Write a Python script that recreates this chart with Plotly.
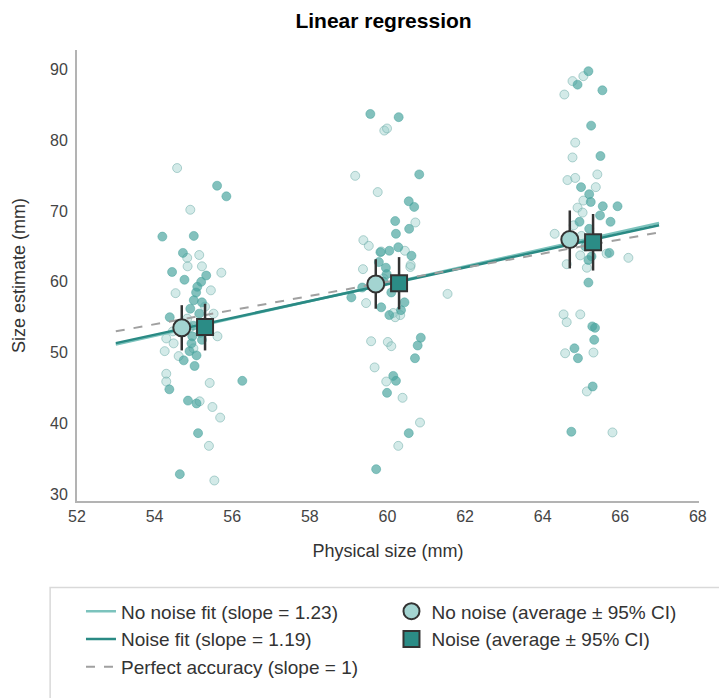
import plotly.graph_objects as go

# ---------------- data ----------------
sizes = [55, 60, 65]

# individual estimates, "No noise" condition (jittered physical size, estimate)
nn_x = [54.58, 54.92, 54.84, 55.15, 54.85, 55.22, 55.72, 55.45, 54.54, 54.84, 55.52, 55.62, 54.49, 54.26,
        54.62, 54.30, 54.30, 55.42, 55.16, 55.49, 55.69, 55.40, 55.54, 54.47, 55.30, 54.90, 54.30, 55.00,
        59.92, 59.99, 59.17, 59.75, 60.72, 59.38, 59.52, 60.45, 59.37, 60.59, 59.45, 60.33, 60.15, 61.55,
        59.58, 60.01, 60.10, 59.67, 59.97, 60.39, 60.84, 60.28, 59.84, 60.60, 60.20, 59.90,
        65.05, 64.77, 64.56, 64.84, 64.77, 64.64, 64.84, 65.41, 65.37, 65.05, 64.90, 65.03, 64.31, 64.97,
        65.65, 66.21, 64.62, 65.14, 64.54, 64.62, 64.97, 64.58, 65.31, 65.14, 65.80, 64.80, 65.00]
nn_y = [76.1, 70.2, 63.4, 63.8, 62.2, 62.2, 61.3, 58.8, 58.4, 54.8, 55.5, 52.3, 51.3, 50.2,
        49.5, 47.0, 45.9, 45.7, 43.1, 42.3, 40.8, 36.8, 31.9, 53.0, 56.5, 53.5, 52.0, 50.6,
        81.4, 81.7, 75.0, 72.7, 68.4, 65.9, 65.1, 64.4, 61.8, 62.1, 57.0, 55.3, 55.6, 58.3,
        51.6, 51.5, 50.9, 47.9, 45.9, 43.6, 40.1, 36.8, 64.3, 62.4, 55.0, 60.5,
        89.1, 88.4, 86.5, 79.7, 77.6, 74.4, 74.7, 75.2, 73.4, 71.5, 70.5, 69.8, 66.8, 63.75,
        64.0, 63.4, 62.5, 62.0, 55.4, 54.3, 55.4, 49.9, 50.0, 44.5, 38.7, 68.0, 66.5]

# individual estimates, "Noise" condition
n_x = [55.61, 55.85, 54.20, 55.01, 54.73, 54.45, 54.77, 55.33, 55.20, 55.07, 55.01, 55.22, 54.92, 54.39,
       54.97, 55.22, 54.75, 54.90, 55.08, 55.03, 54.38, 56.26, 54.86, 55.08, 55.12, 54.65, 55.10, 55.15,
       55.00, 54.95, 55.18,
       59.56, 60.29, 60.82, 60.55, 60.69, 60.20, 60.56, 60.22, 59.82, 60.05, 60.28, 60.62, 59.78, 59.96,
       59.98, 59.07, 59.35, 59.84, 60.05, 60.44, 60.86, 60.78, 60.71, 60.15, 60.22, 59.99, 60.55, 59.71,
       59.90, 60.10, 60.35,
       65.18, 64.90, 65.54, 65.25, 65.49, 64.99, 65.20, 65.24, 65.55, 65.93, 65.48, 65.75, 64.95, 65.20,
       65.26, 65.72, 65.18, 65.18, 65.28, 65.35, 65.33, 64.82, 64.91, 65.29, 64.74, 65.30, 65.10]
n_y = [73.6, 72.1, 66.4, 66.5, 64.1, 61.4, 60.3, 60.9, 60.0, 58.5, 57.4, 57.1, 56.2, 55.0,
       52.3, 51.8, 48.9, 50.2, 49.6, 48.1, 44.8, 46.0, 43.2, 42.8, 38.6, 32.8, 59.3, 55.5,
       53.8, 51.3, 52.8,
       83.75, 83.3, 75.2, 71.4, 70.6, 68.6, 67.5, 66.8, 64.2, 64.4, 64.9, 63.7, 62.8, 62.0,
       61.1, 57.8, 59.2, 56.4, 55.3, 57.1, 52.1, 51.0, 49.2, 46.7, 46.0, 44.3, 38.6, 33.5,
       60.0, 58.5, 56.0,
       89.8, 87.9, 87.1, 82.1, 77.8, 73.4, 72.4, 71.3, 70.7, 70.7, 69.4, 68.5, 68.5, 67.5,
       63.6, 64.1, 63.1, 59.9, 53.7, 53.5, 51.8, 50.6, 49.2, 45.2, 38.8, 66.0, 65.0]

# group averages and 95% CI half-widths
nn_mean = [53.5, 59.7, 66.0]
nn_ci = [3.2, 3.5, 4.1]
n_mean = [53.6, 59.8, 65.6]
n_ci = [3.3, 3.7, 4.0]

# regression slopes
nn_slope = 1.23
n_slope = 1.19
fit_x = [53, 67]

# ---------------- styling ----------------
FONT = "Liberation Sans, Arial, Helvetica, sans-serif"
LIGHT_FILL = "rgba(150,205,201,0.42)"
LIGHT_EDGE = "rgba(105,170,166,0.5)"
DARK_FILL = "rgba(72,163,157,0.68)"
DARK_EDGE = "rgba(72,163,157,0.5)"
NN_LINE = "#7cc3bd"
N_LINE = "#2a8a84"
OFFSET = 0.3

def line_through_mean(slope, means):
    mx = sum(sizes) / len(sizes)
    my = sum(means) / len(means)
    return [my + slope * (x - mx) for x in fit_x]

fig = go.Figure()

fig.add_trace(go.Scatter(x=nn_x, y=nn_y, mode="markers", showlegend=False, hoverinfo="skip",
                         marker=dict(size=9, color=LIGHT_FILL, line=dict(color=LIGHT_EDGE, width=1))))
fig.add_trace(go.Scatter(x=n_x, y=n_y, mode="markers", showlegend=False, hoverinfo="skip",
                         marker=dict(size=9, color=DARK_FILL, line=dict(color=DARK_EDGE, width=1))))

fig.add_trace(go.Scatter(x=fit_x, y=line_through_mean(nn_slope, nn_mean), mode="lines",
                         name=f"No noise fit (slope = {nn_slope:.2f})", legend="legend",
                         line=dict(color=NN_LINE, width=2.5)))
fig.add_trace(go.Scatter(x=fit_x, y=line_through_mean(n_slope, n_mean), mode="lines",
                         name=f"Noise fit (slope = {n_slope:.2f})", legend="legend",
                         line=dict(color=N_LINE, width=2.5)))
fig.add_trace(go.Scatter(x=fit_x, y=fit_x, mode="lines",
                         name="Perfect accuracy (slope = 1)", legend="legend",
                         line=dict(color="#a0a0a0", width=2, dash="dash")))

fig.add_trace(go.Scatter(x=[s - OFFSET for s in sizes], y=nn_mean, mode="markers",
                         name="No noise (average ± 95% CI)", legend="legend2",
                         error_y=dict(type="data", array=nn_ci, color="#333333", thickness=2.5, width=0),
                         marker=dict(symbol="circle", size=17, color="#a3d4d1",
                                     line=dict(color="#333333", width=2))))
fig.add_trace(go.Scatter(x=[s + OFFSET for s in sizes], y=n_mean, mode="markers",
                         name="Noise (average ± 95% CI)", legend="legend2",
                         error_y=dict(type="data", array=n_ci, color="#333333", thickness=2.5, width=0),
                         marker=dict(symbol="square", size=16, color="#2b8c86",
                                     line=dict(color="#333333", width=2))))

axis_common = dict(showgrid=False, zeroline=False, showline=True, linecolor="#b3b3b3", linewidth=2,
                   ticks="", tickfont=dict(size=16, color="#444444", family=FONT))

fig.update_layout(
    width=719, height=698,
    margin=dict(l=77, r=17, t=50, b=189),
    paper_bgcolor="white", plot_bgcolor="white",
    font=dict(family=FONT, color="#333333"),
    title=dict(text="<b>Linear regression</b>", x=(385 - 77) / 625, xanchor="center", xref="paper",
               y=1 - 21 / 698, yanchor="middle", font=dict(size=21, color="black", family=FONT)),
    xaxis=dict(range=[52, 68.03], tick0=52, dtick=2,
               title=dict(text="Physical size (mm)", font=dict(size=18, color="#333333"), standoff=20),
               **axis_common),
    yaxis=dict(range=[29.0, 92.8], tick0=30, dtick=10, ticklabelstandoff=4,
               title=dict(text="Size estimate (mm)", font=dict(size=18, color="#333333"), standoff=20),
               **axis_common),
    legend=dict(x=(81 - 77) / 625, xanchor="left", y=(509 - 602) / 459, yanchor="top",
                orientation="v", font=dict(size=19, color="#333333", family=FONT),
                bgcolor="rgba(0,0,0,0)", itemwidth=30, tracegroupgap=0),
    legend2=dict(x=(393 - 77) / 625, xanchor="left", y=(509 - 602) / 459, yanchor="top",
                 orientation="v", font=dict(size=19, color="#333333", family=FONT),
                 bgcolor="rgba(0,0,0,0)", itemwidth=30, tracegroupgap=0),
    shapes=[dict(type="rect", xref="paper", yref="paper",
                 x0=(50 - 77) / 625, x1=1.2, y0=(509 - 760) / 459, y1=(509 - 597) / 459,
                 line=dict(color="#d9d9d9", width=1.5), fillcolor="rgba(0,0,0,0)", layer="below")],
)
fig.update_layout(xaxis_title_font_family=FONT, yaxis_title_font_family=FONT)

fig.write_html("out.html")
